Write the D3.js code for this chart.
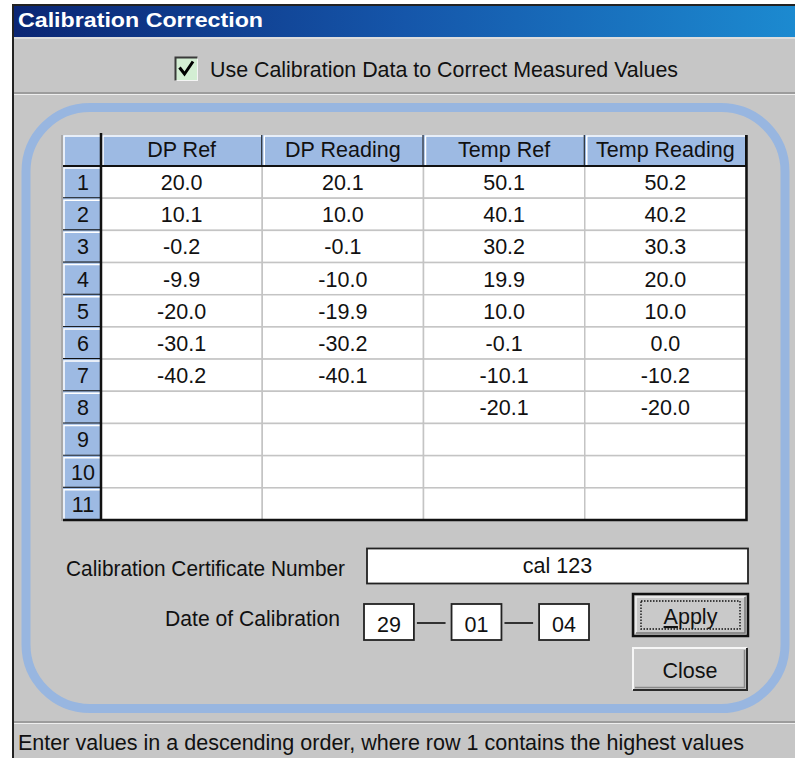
<!DOCTYPE html>
<html>
<head>
<meta charset="utf-8">
<script src="https://cdn.jsdelivr.net/npm/d3@7"></script>
<style>
  html, body { margin: 0; padding: 0; background: #fff; }
  svg { display: block; font-family: "Liberation Sans", Arial, sans-serif; }
</style>
</head>
<body>
<div id="chart"></div>
<script>
const columns = ["DP Ref", "DP Reading", "Temp Ref", "Temp Reading"];
const rowNumbers = [1, 2, 3, 4, 5, 6, 7, 8, 9, 10, 11];
const dpRef = [20.0, 10.1, -0.2, -9.9, -20.0, -30.1, -40.2];
const dpReading = [20.1, 10.0, -0.1, -10.0, -19.9, -30.2, -40.1];
const tempRef = [50.1, 40.1, 30.2, 19.9, 10.0, -0.1, -10.1, -20.1];
const tempReading = [50.2, 40.2, 30.3, 20.0, 10.0, 0.0, -10.2, -20.0];
const seriesByColumn = [dpRef, dpReading, tempRef, tempReading];

const titleText = "Calibration Correction";
const checkText = "Use Calibration Data to Correct Measured Values";
const certLabel = "Calibration Certificate Number";
const certNumber = "cal 123";
const dateLabel = "Date of Calibration";
const dateParts = ["29", "01", "04"];
const statusText = "Enter values in a descending order, where row 1 contains the highest values";

const W = 795, H = 758;
const gray = "#c6c6c6", frameBlue = "#98b6e0", headBlue = "#9dbae3", gridGray = "#c4c4c4";
const fs = 21.5;

const svg = d3.select("#chart").append("svg")
  .attr("width", W)
  .attr("height", H);

// gradient for the title bar
const defs = svg.append("defs");
const grad = defs.append("linearGradient").attr("id", "titleGrad")
  .attr("x1", "0%").attr("x2", "100%").attr("y1", "0%").attr("y2", "0%");
grad.append("stop").attr("offset", "0%").attr("stop-color", "#0b2674");
grad.append("stop").attr("offset", "50%").attr("stop-color", "#1556aa");
grad.append("stop").attr("offset", "100%").attr("stop-color", "#1c8ad0");

// window body
svg.append("rect").attr("x", 13).attr("y", 5).attr("width", W - 13).attr("height", H - 5).attr("fill", gray);
svg.append("rect").attr("x", 14).attr("y", 6).attr("width", W - 14).attr("height", 31).attr("fill", "url(#titleGrad)");
svg.append("line").attr("x1", 12).attr("x2", W).attr("y1", 5).attr("y2", 5).attr("stroke", "#222").attr("stroke-width", 2);
svg.append("line").attr("x1", 13).attr("x2", 13).attr("y1", 5).attr("y2", H).attr("stroke", "#222").attr("stroke-width", 2);
svg.append("line").attr("x1", 14).attr("x2", W).attr("y1", 38).attr("y2", 38).attr("stroke", "#e4e4e4").attr("stroke-width", 1.5);

svg.append("text")
  .attr("x", 18).attr("y", 27)
  .attr("fill", "#fff")
  .attr("font-weight", "bold")
  .attr("font-size", 21)
  .attr("textLength", 245).attr("lengthAdjust", "spacingAndGlyphs")
  .text(titleText);

// checkbox row
svg.append("rect").attr("x", 175.5).attr("y", 57.5).attr("width", 22).attr("height", 23)
  .attr("fill", "#d3eed3").attr("stroke", "#f4f4f4").attr("stroke-width", 1);
svg.append("path").attr("d", "M175.5,80.5 V57.5 H197.5").attr("fill", "none").attr("stroke", "#3a3a3a").attr("stroke-width", 2);
svg.append("path").attr("d", "M179.5,67.5 L184.5,74 L193,61.5")
  .attr("fill", "none").attr("stroke", "#000").attr("stroke-width", 3);
svg.append("text")
  .attr("x", 210).attr("y", 77)
  .attr("font-size", fs).attr("fill", "#111")
  .attr("textLength", 468).attr("lengthAdjust", "spacingAndGlyphs")
  .text(checkText);

svg.append("line").attr("x1", 14).attr("x2", W).attr("y1", 93).attr("y2", 93).attr("stroke", "#8e8e8e").attr("stroke-width", 1.5);
svg.append("line").attr("x1", 14).attr("x2", W).attr("y1", 94.5).attr("y2", 94.5).attr("stroke", "#eeeeee").attr("stroke-width", 1);

// rounded blue frame
svg.append("rect")
  .attr("x", 26).attr("y", 107.5).attr("width", 759).attr("height", 601).attr("rx", 64)
  .attr("fill", "none").attr("stroke", frameBlue).attr("stroke-width", 9);

// ---- grid ----
const x = d3.scaleBand().domain(columns).range([101, 746]);
const y = d3.scaleBand().domain(rowNumbers).range([166, 520]);
const headTop = 135, rowHeadLeft = 63;
const fmt = v => v.toFixed(1);

const grid = svg.append("g");

// data cells
rowNumbers.forEach(r => {
  columns.forEach(c => {
    grid.append("rect")
      .attr("x", x(c)).attr("y", y(r))
      .attr("width", x.bandwidth()).attr("height", y.bandwidth())
      .attr("fill", "#fff").attr("stroke", gridGray).attr("stroke-width", 1.5);
  });
});

// column headers
const heads = grid.selectAll("g.head").data(columns).join("g").attr("class", "head");
heads.append("rect")
  .attr("x", d => x(d)).attr("y", headTop)
  .attr("width", x.bandwidth()).attr("height", y(1) - headTop)
  .attr("fill", headBlue);
heads.append("path")
  .attr("d", d => `M${x(d) + 2},${y(1) - 1} V${headTop + 1} H${x(d) + x.bandwidth() - 1}`)
  .attr("fill", "none").attr("stroke", "#fff").attr("stroke-width", 1.5);
heads.append("line")
  .attr("x1", d => x(d) + x.bandwidth()).attr("x2", d => x(d) + x.bandwidth())
  .attr("y1", headTop).attr("y2", y(1))
  .attr("stroke", "#111").attr("stroke-width", 2);
heads.append("text")
  .attr("x", d => x(d) + x.bandwidth() / 2).attr("y", 157)
  .attr("text-anchor", "middle").attr("font-size", fs).attr("fill", "#111")
  .text(d => d);

// row headers
grid.append("rect")
  .attr("x", rowHeadLeft).attr("y", headTop)
  .attr("width", 101 - rowHeadLeft).attr("height", y(1) - headTop)
  .attr("fill", headBlue);
grid.append("path")
  .attr("d", `M${rowHeadLeft + 1},${y(1)} V${headTop + 1} H101`)
  .attr("fill", "none").attr("stroke", "#fff").attr("stroke-width", 1.5);

const rowHeads = grid.selectAll("g.rowhead").data(rowNumbers).join("g").attr("class", "rowhead");
rowHeads.append("rect")
  .attr("x", rowHeadLeft).attr("y", d => y(d))
  .attr("width", 101 - rowHeadLeft).attr("height", y.bandwidth())
  .attr("fill", headBlue);
rowHeads.append("path")
  .attr("d", d => `M${rowHeadLeft + 1},${y(d) + y.bandwidth()} V${y(d) + 2} H101`)
  .attr("fill", "none").attr("stroke", "#fff").attr("stroke-width", 1.5);
rowHeads.append("line")
  .attr("x1", rowHeadLeft).attr("x2", 101)
  .attr("y1", d => y(d) + y.bandwidth()).attr("y2", d => y(d) + y.bandwidth())
  .attr("stroke", "#111").attr("stroke-width", 2);
rowHeads.append("text")
  .attr("x", (rowHeadLeft + 101) / 2 + 1).attr("y", d => y(d) + 24)
  .attr("text-anchor", "middle").attr("font-size", fs).attr("fill", "#111")
  .text(d => d);

// outer dark lines of the grid
grid.append("line").attr("x1", rowHeadLeft).attr("x2", 747).attr("y1", y(1)).attr("y2", y(1))
  .attr("stroke", "#111").attr("stroke-width", 2);
grid.append("line").attr("x1", 101).attr("x2", 101).attr("y1", headTop - 2).attr("y2", 521)
  .attr("stroke", "#111").attr("stroke-width", 2.5);
grid.append("path").attr("d", `M${rowHeadLeft},520 H746.5 V${headTop}`)
  .attr("fill", "none").attr("stroke", "#111").attr("stroke-width", 2.5);
grid.append("path").attr("d", `M${rowHeadLeft - 1},${headTop} V521`)
  .attr("fill", "none").attr("stroke", "#8a8a8a").attr("stroke-width", 1);

// values
seriesByColumn.forEach((vals, ci) => {
  grid.selectAll(null).data(vals).join("text")
    .attr("x", x(columns[ci]) + x.bandwidth() / 2)
    .attr("y", (d, i) => y(rowNumbers[i]) + 24)
    .attr("text-anchor", "middle").attr("font-size", fs).attr("fill", "#111")
    .text(d => fmt(d));
});

// ---- certificate and date ----
svg.append("text")
  .attr("x", 345).attr("y", 576).attr("text-anchor", "end")
  .attr("font-size", fs).attr("fill", "#111")
  .attr("textLength", 279).attr("lengthAdjust", "spacingAndGlyphs")
  .text(certLabel);
svg.append("rect").attr("x", 367).attr("y", 548.5).attr("width", 381).attr("height", 35)
  .attr("fill", "#fff").attr("stroke", "#222").attr("stroke-width", 1.8);
svg.append("text")
  .attr("x", 557.5).attr("y", 573).attr("text-anchor", "middle")
  .attr("font-size", fs).attr("fill", "#111")
  .text(certNumber);

svg.append("text")
  .attr("x", 340).attr("y", 626).attr("text-anchor", "end")
  .attr("font-size", fs).attr("fill", "#111")
  .attr("textLength", 175).attr("lengthAdjust", "spacingAndGlyphs")
  .text(dateLabel);

const dateX = d3.scaleBand().domain(dateParts.map((d, i) => i)).range([364, 589]).paddingInner(0.43);
const dateG = svg.selectAll("g.date").data(dateParts).join("g").attr("class", "date");
dateG.append("rect")
  .attr("x", (d, i) => dateX(i)).attr("y", 604)
  .attr("width", dateX.bandwidth()).attr("height", 36)
  .attr("fill", "#fff").attr("stroke", "#222").attr("stroke-width", 1.8);
dateG.append("text")
  .attr("x", (d, i) => dateX(i) + dateX.bandwidth() / 2).attr("y", 632)
  .attr("text-anchor", "middle").attr("font-size", fs).attr("fill", "#111")
  .text(d => d);
dateG.filter((d, i) => i < dateParts.length - 1).append("line")
  .attr("x1", (d, i) => dateX(i) + dateX.bandwidth() + 3)
  .attr("x2", (d, i) => dateX(i + 1) - 6)
  .attr("y1", 623).attr("y2", 623)
  .attr("stroke", "#222").attr("stroke-width", 1.8);

// ---- buttons ----
function button(bx, by, bw, bh, label, isDefault) {
  const g = svg.append("g");
  g.append("rect").attr("x", bx).attr("y", by).attr("width", bw).attr("height", bh).attr("fill", "#c9c9c9");
  if (isDefault) {
    g.append("rect").attr("x", bx).attr("y", by).attr("width", bw).attr("height", bh)
      .attr("fill", "none").attr("stroke", "#111").attr("stroke-width", 2.5);
    g.append("path").attr("d", `M${bx + 3},${by + bh - 3} V${by + 3} H${bx + bw - 3}`)
      .attr("fill", "none").attr("stroke", "#f4f4f4").attr("stroke-width", 1.5);
    g.append("path").attr("d", `M${bx + 3},${by + bh - 3} H${bx + bw - 3} V${by + 3}`)
      .attr("fill", "none").attr("stroke", "#7a7a7a").attr("stroke-width", 1.5);
    g.append("rect").attr("x", bx + 8).attr("y", by + 7).attr("width", bw - 16).attr("height", bh - 14)
      .attr("fill", "none").attr("stroke", "#111").attr("stroke-width", 1.4).attr("stroke-dasharray", "1.5,1.5");
  } else {
    g.append("path").attr("d", `M${bx},${by + bh} V${by} H${bx + bw}`)
      .attr("fill", "none").attr("stroke", "#f6f6f6").attr("stroke-width", 2);
    g.append("path").attr("d", `M${bx},${by + bh} H${bx + bw} V${by}`)
      .attr("fill", "none").attr("stroke", "#2a2a2a").attr("stroke-width", 2);
    g.append("path").attr("d", `M${bx + 2},${by + bh - 2.5} H${bx + bw - 2.5} V${by + 2}`)
      .attr("fill", "none").attr("stroke", "#8a8a8a").attr("stroke-width", 1.5);
  }
  const t = g.append("text")
    .attr("x", bx + bw / 2).attr("y", by + bh - 12)
    .attr("text-anchor", "middle").attr("font-size", fs).attr("fill", "#111");
  if (isDefault) {
    t.append("tspan").style("text-decoration", "underline").text(label[0]);
    t.append("tspan").text(label.slice(1));
  } else {
    t.text(label);
  }
}
button(633, 594, 115, 42, "Apply", true);
button(633, 648, 114, 42, "Close", false);

// ---- status bar ----
svg.append("line").attr("x1", 14).attr("x2", W).attr("y1", 722).attr("y2", 722).attr("stroke", "#8e8e8e").attr("stroke-width", 1.5);
svg.append("line").attr("x1", 14).attr("x2", W).attr("y1", 723.5).attr("y2", 723.5).attr("stroke", "#eeeeee").attr("stroke-width", 1);
svg.append("text")
  .attr("x", 18).attr("y", 750)
  .attr("font-size", fs).attr("fill", "#111")
  .attr("textLength", 726).attr("lengthAdjust", "spacingAndGlyphs")
  .text(statusText);
</script>
</body>
</html>
